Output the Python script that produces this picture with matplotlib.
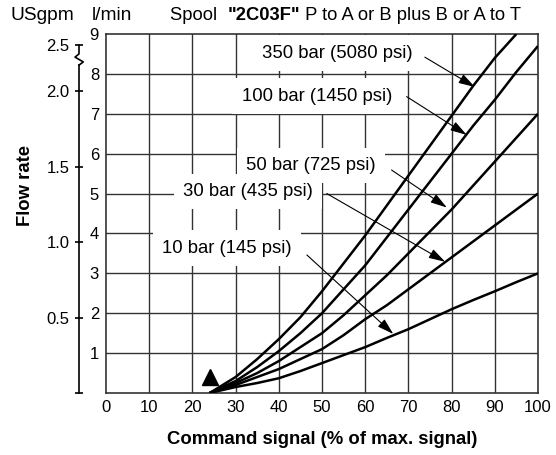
import matplotlib
matplotlib.use('Agg')
import matplotlib.pyplot as plt

plt.rcParams['font.family'] = ['Liberation Sans', 'DejaVu Sans']

# command signal (% of max) and flow (l/min)
signal = [24, 30, 35, 40, 45, 50, 55, 60, 65, 70, 75, 80, 85, 90, 95, 100]
flow_10 = [0, 0.15, 0.25, 0.37, 0.55, 0.75, 0.95, 1.15, 1.38, 1.6, 1.85, 2.1, 2.33, 2.55, 2.78, 3.0]
flow_30 = [0, 0.2, 0.4, 0.6, 0.85, 1.1, 1.45, 1.85, 2.2, 2.6, 3.0, 3.4, 3.8, 4.2, 4.6, 5.0]
flow_50 = [0, 0.25, 0.5, 0.8, 1.15, 1.5, 1.95, 2.45, 2.95, 3.5, 4.05, 4.6, 5.2, 5.8, 6.4, 7.0]
flow_100 = [0, 0.3, 0.65, 1.05, 1.5, 2.0, 2.6, 3.2, 3.9, 4.6, 5.3, 6.0, 6.7, 7.35, 8.05, 8.7]
signal_350 = signal[:15]
flow_350 = [0, 0.4, 0.85, 1.35, 1.9, 2.55, 3.25, 3.95, 4.7, 5.45, 6.2, 6.95, 7.7, 8.4, 9.0]

x_ticks = list(range(0, 101, 10))
lmin_ticks = list(range(1, 10))
gpm_ticks = [0.5, 1.0, 1.5, 2.0]
LPM_PER_GPM = 3.785

labels = ['350 bar (5080 psi)', '100 bar (1450 psi)', '50 bar (725 psi)',
          '30 bar (435 psi)', '10 bar (145 psi)']
label_pos = [(53.5, 8.52), (48.8, 7.44), (47.4, 5.70), (32.8, 5.05), (28.0, 3.63)]
arrow_start = [(73.8, 8.42), (69.6, 7.43), (66.1, 5.59), (51.1, 5.0), (46.5, 3.46)]
arrow_tip = [(85.4, 7.67), (83.5, 6.47), (78.9, 4.65), (78.5, 3.29), (66.5, 1.48)]

W, H = 556, 455
fig = plt.figure(figsize=(W / 100, H / 100), dpi=100)
ax = fig.add_axes([106 / W, 1 - 393 / H, 432 / W, 359 / H])
ax.set_xlim(0, 100)
ax.set_ylim(0, 9)

gridc = '#333333'
for x in x_ticks[1:-1]:
    ax.axvline(x, color=gridc, lw=1.0, zorder=1)
for y in lmin_ticks[:-1]:
    ax.axhline(y, color=gridc, lw=1.0, zorder=1)
for s in ax.spines.values():
    s.set_color(gridc)
    s.set_linewidth(1.2)

ax.set_xticks(x_ticks)
ax.set_yticks(lmin_ticks)
ax.tick_params(length=0, labelsize=12, pad=5)

for xs, ys in [(signal, flow_10), (signal, flow_30), (signal, flow_50),
               (signal, flow_100), (signal_350, flow_350)]:
    ax.plot(xs, ys, color='black', lw=1.8, solid_capstyle='butt', zorder=4)

ax.plot([24], [0.4], marker='^', color='black', markersize=12, zorder=4)

for txt, pos, a, b in zip(labels, label_pos, arrow_start, arrow_tip):
    ax.text(pos[0], pos[1], txt, ha='center', va='center', fontsize=13.3, zorder=3,
            bbox=dict(boxstyle='square,pad=0.5', fc='white', ec='none'))
    ax.annotate('', xy=b, xytext=a, zorder=5,
                arrowprops=dict(arrowstyle='-|>,head_length=1.0,head_width=0.3',
                                color='black', lw=0.8, mutation_scale=10,
                                shrinkA=0, shrinkB=0))

# secondary USgpm scale on the left
ax2 = fig.add_axes([79 / W, 1 - 393 / H, 10 / W, 359 / H])
ax2.set_xlim(0, 1)
ax2.set_ylim(0, 9)
ax2.patch.set_visible(False)
for k in ['top', 'right', 'bottom']:
    ax2.spines[k].set_visible(False)
ax2.spines['left'].set_bounds(0, 8.22)
ax2.spines['left'].set_linewidth(1.2)
top_lpm = 8.72
ax2.set_xticks([])
ax2.set_yticks([0] + [g * LPM_PER_GPM for g in gpm_ticks] + [top_lpm])
ax2.set_yticklabels([''] + ['%.1f' % g for g in gpm_ticks] + ['2.5'])
ax2.tick_params(axis='y', direction='inout', length=6, width=1.2, labelsize=12, pad=4)
tr = ax2.get_yaxis_transform()
ax2.plot([0, 0, -0.4, 0.43, 0, 0], [top_lpm, 8.5, 8.42, 8.3, 8.22, 8.22],
         color='black', lw=1.2, transform=tr, clip_on=False)

# header and axis labels
hs = 13.8
fig.text(10 / W, 1 - 15 / H, 'USgpm', fontsize=hs, va='center', ha='left')
fig.text(92 / W, 1 - 15 / H, 'l/min', fontsize=hs, va='center', ha='left')
t1 = fig.text(170 / W, 1 - 15 / H, 'Spool  ', fontsize=13.2, va='center', ha='left')
t2 = ax.annotate('"2C03F"', xy=(1, 0.5), xycoords=t1, fontsize=13.2, fontweight='bold',
                 va='center', ha='left')
ax.annotate(' P to A or B plus B or A to T', xy=(1, 0.5), xycoords=t2, fontsize=13.2,
            va='center', ha='left')

fig.text(25 / W, 1 - 185 / H, 'Flow rate', fontsize=13.3, fontweight='bold', rotation=90,
         va='center', ha='center')
fig.text(322 / W, 1 - 440 / H, 'Command signal (% of max. signal)', fontsize=13.3,
         fontweight='bold', va='center', ha='center')

fig.savefig('out.png', dpi=100)
